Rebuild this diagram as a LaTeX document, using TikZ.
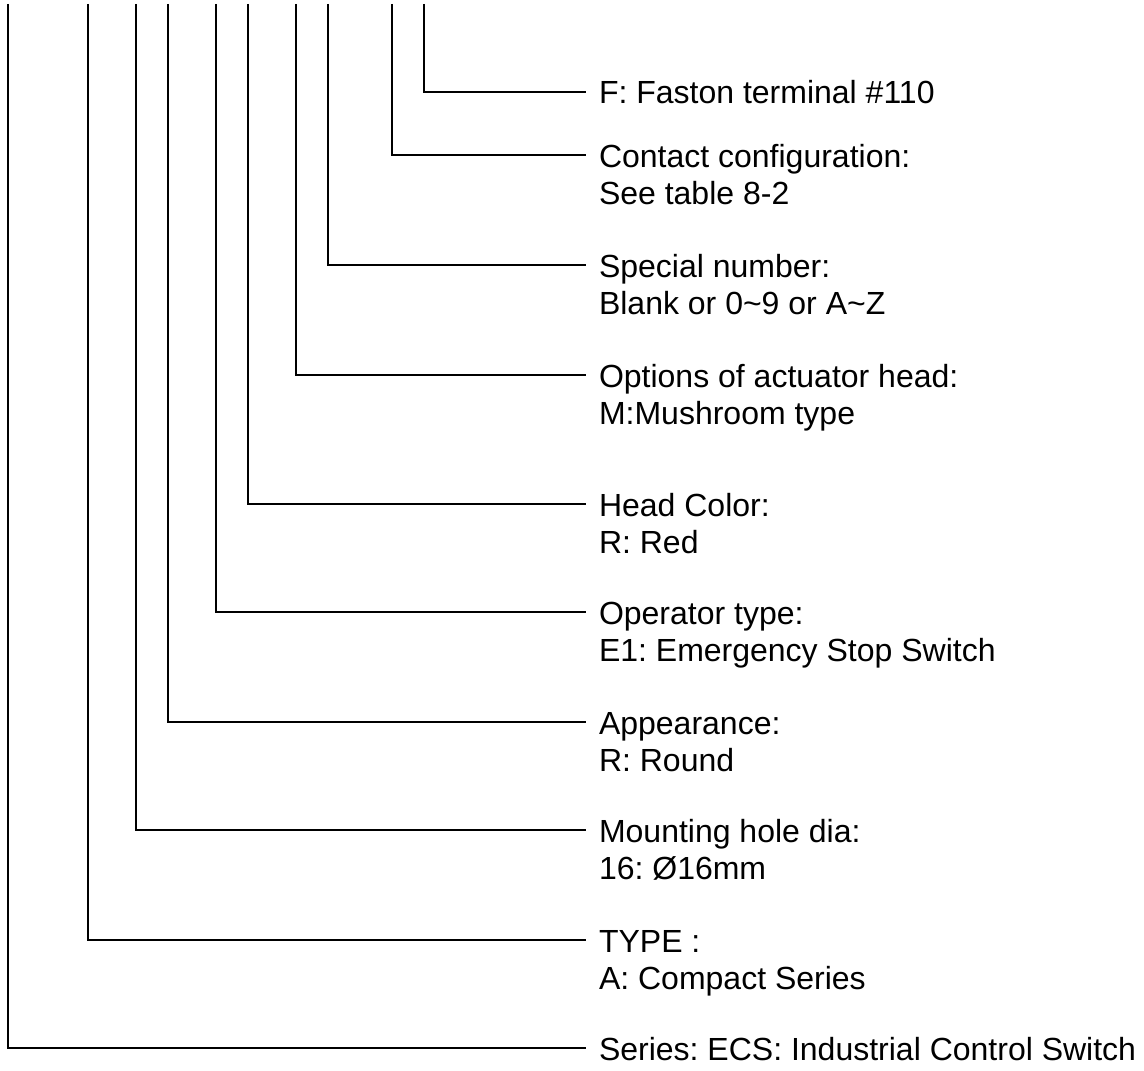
\documentclass[tikz,border=0pt]{standalone}
\usepackage{fontspec}
\setmainfont{Liberation Sans}
\usetikzlibrary{positioning}
\frenchspacing

\tikzset{
  lead/.style={line width=0.8pt},
  lbl/.style={inner xsep=6.5pt, inner ysep=0pt, outer sep=0pt, anchor=west,
    text height=14.4pt, text depth=2.4pt, font=\fontsize{16}{18.5}\selectfont},
  sub/.style={lbl, anchor=base west},
}

\begin{document}
\begin{tikzpicture}[x=0.5pt,y=-0.5pt]
\useasboundingbox (0,0) rectangle (1144,1070);
% --- tops of the code lines ---
\coordinate (serT) at (8,4);
\coordinate (typT) at (88,4);
\coordinate (mouT) at (136,4);
\coordinate (appT) at (168,4);
\coordinate (opeT) at (216,4);
\coordinate (colT) at (248,4);
\coordinate (optT) at (296,4);
\coordinate (speT) at (328,4);
\coordinate (conT) at (392,4);
\coordinate (fasT) at (424,4);
% --- labels ---
\node[lbl] (fas) at (586,92) {F: Faston terminal \#110};
\node[lbl] (con) at (586,155) {Contact configuration:};
\node[sub] (conB) at ([yshift=-18.5pt]con.base west) {See table 8-2};
\node[lbl] (spe) at (586,265) {Special number:};
\node[sub] (speB) at ([yshift=-18.5pt]spe.base west) {Blank or 0\textasciitilde9 or A\textasciitilde Z};
\node[lbl] (opt) at (586,375) {Options of actuator head:};
\node[sub] (optB) at ([yshift=-18.5pt]opt.base west) {M:Mushroom type};
\node[lbl] (col) at (586,504) {Head Color:};
\node[sub] (colB) at ([yshift=-18.5pt]col.base west) {R: Red};
\node[lbl] (ope) at (586,612) {Operator type:};
\node[sub] (opeB) at ([yshift=-18.5pt]ope.base west) {E1: Emergency Stop Switch};
\node[lbl] (app) at (586,722) {Appearance:};
\node[sub] (appB) at ([yshift=-18.5pt]app.base west) {R: Round};
\node[lbl] (mou) at (586,830) {Mounting hole dia:};
\node[sub] (mouB) at ([yshift=-18.5pt]mou.base west) {16: Ø16mm};
\node[lbl] (typ) at (586,940) {TYPE :};
\node[sub] (typB) at ([yshift=-18.5pt]typ.base west) {A: Compact Series};
\node[lbl] (ser) at (586,1048) {Series: ECS: Industrial Control Switch};
% --- leads from the code to the labels ---
\draw[lead] (fasT) |- (fas.west);
\draw[lead] (conT) |- (con.west);
\draw[lead] (speT) |- (spe.west);
\draw[lead] (optT) |- (opt.west);
\draw[lead] (colT) |- (col.west);
\draw[lead] (opeT) |- (ope.west);
\draw[lead] (appT) |- (app.west);
\draw[lead] (mouT) |- (mou.west);
\draw[lead] (typT) |- (typ.west);
\draw[lead] (serT) |- (ser.west);
\end{tikzpicture}
\end{document}
